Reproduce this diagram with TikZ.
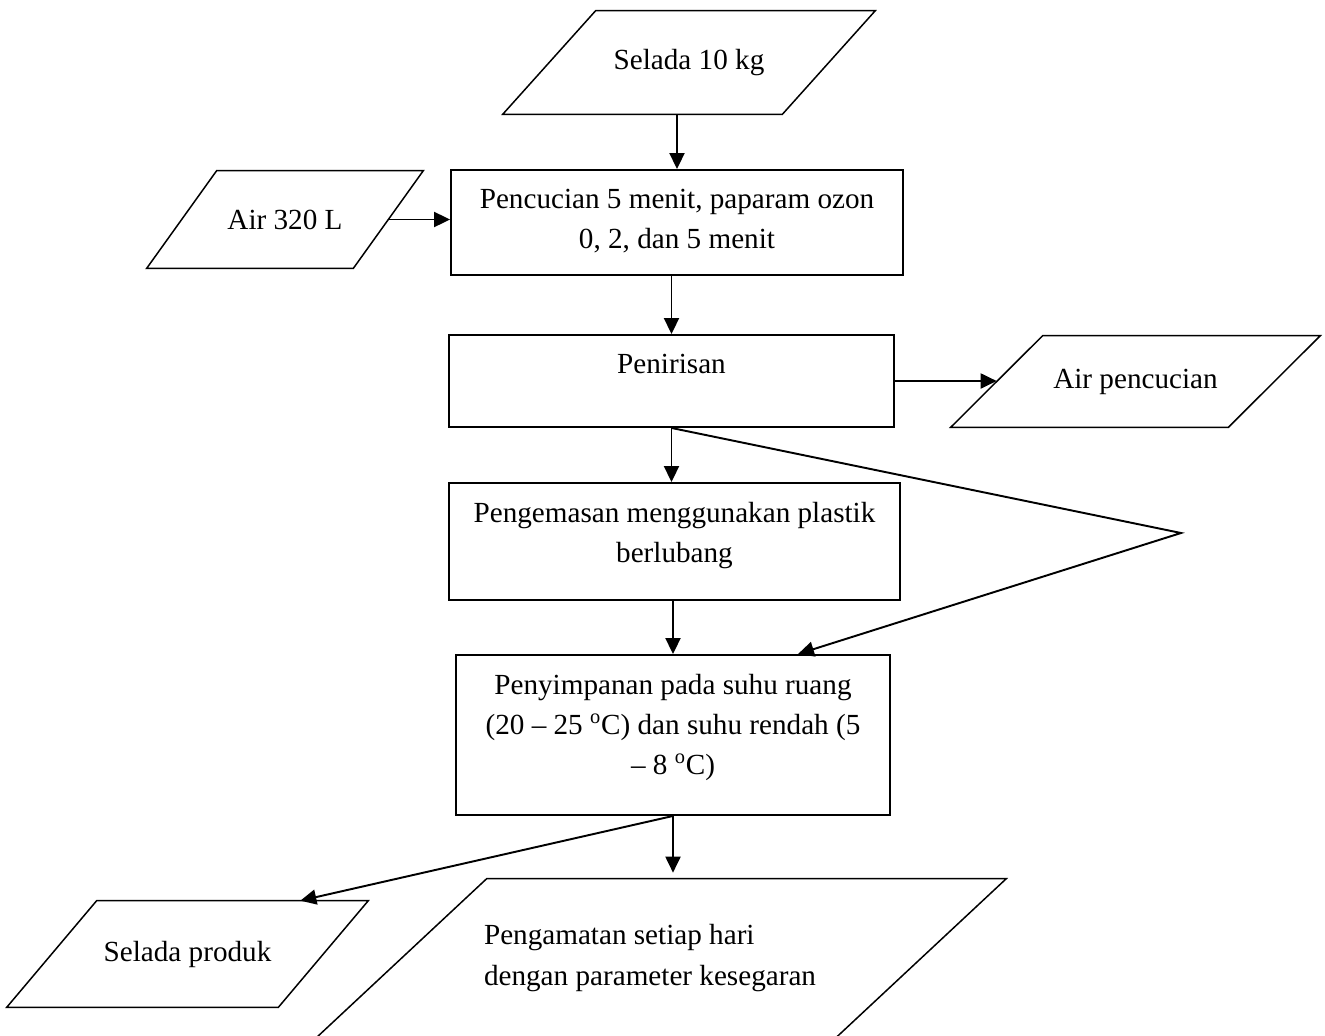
\documentclass[tikz,border=0pt]{standalone}
\usepackage{fontspec}
\setmainfont{Liberation Serif}
\usetikzlibrary{arrows.meta}

\begin{document}
\begin{tikzpicture}[x = 0.02cm, y = -0.02cm]
    \tikzset{
        proc/.style = {
            draw,
            rectangle,
            line width = 1.1pt,
            inner sep = 0pt
        },
        io/.style = {
            rectangle,
            inner sep = 0pt
        },
        ioline/.style = {
            line width = 0.85pt,
            line join = miter
        },
        arr/.style = {
            line width = 1.1pt,
            -{Triangle[length = 0.32cm, width = 0.3cm]}
        },
        every node/.style = {
            font = \fontsize{16.6pt}{22.8pt}\selectfont
        }
    }

    % text sits at the top of the box
    \def\toptext#1#2#3{\parbox[c][#2][t]{#1}{\centering\vspace{0.38cm}#3}}

    \clip (0, 0) rectangle (1325, 1035);

    \node[io, minimum width = 7.44cm, minimum height = 2.06cm] (selada) at (689, 62.5) {Selada 10 kg};
    \node[io, minimum width = 5.52cm, minimum height = 1.94cm] (air) at (285, 219.5) {Air 320 L};
    \node[io, minimum width = 7.38cm, minimum height = 1.82cm] (aircuci) at (1135.5, 381.5) {Air pencucian};
    \node[io, minimum width = 7.22cm, minimum height = 2.12cm] (produk) at (187.5, 954) {Selada produk};
    \node[io, minimum width = 13.78cm, minimum height = 3.16cm] (amati) at (661.5, 958)
        {\parbox{7.1cm}{Pengamatan setiap hari\\dengan parameter kesegaran}};

    % slanted outline of the input/output boxes
    \foreach \n/\s in {selada/1.86, air/1.4, aircuci/1.84, produk/1.8, amati/3.4}{
        \draw[ioline] (\n.south west) -- ([xshift = \s cm]\n.north west)
            -- (\n.north east) -- ([xshift = -\s cm]\n.south east) -- cycle;
    }

    \node[proc] (cuci) at (677, 222.5)
        {\toptext{9.04cm}{2.1cm}{Pencucian 5 menit, paparam ozon\\0, 2, dan 5 menit}};
    \node[proc] (tiris) at (671.5, 381)
        {\toptext{8.9cm}{1.84cm}{Penirisan}};
    \node[proc] (kemas) at (674.5, 541.5)
        {\toptext{9.02cm}{2.34cm}{Pengemasan menggunakan plastik\\berlubang}};
    \node[proc] (simpan) at (673, 735)
        {\toptext{8.68cm}{3.2cm}{Penyimpanan pada suhu ruang\\(20 -- 25 \textsuperscript{o}C) dan suhu rendah (5\\-- 8 \textsuperscript{o}C)}};

    \coordinate (belok) at (1181, 533);

    \draw[arr] (cuci.north |- selada.south) -- (cuci.north);
    \draw[arr] ([xshift = -0.7cm]air.east) -- (air.east -| cuci.west);
    \draw[arr] (tiris.north |- cuci.south) -- (tiris.north);
    \draw[arr] (tiris.east) -- ([xshift = 0.92cm]aircuci.west |- tiris.east);
    \draw[arr] (tiris.south) -- (tiris.south |- kemas.north);
    \draw[arr] (tiris.south) -- (belok) -- ([xshift = 2.5cm]simpan.north);
    \draw[arr] (simpan.north |- kemas.south) -- (simpan.north);
    \draw[arr] (simpan.south) -- ([yshift = 0.12cm]simpan.south |- amati.north);
    \draw[arr] (simpan.south) -- ([xshift = -1.36cm]produk.north east);

\end{tikzpicture}
\end{document}
